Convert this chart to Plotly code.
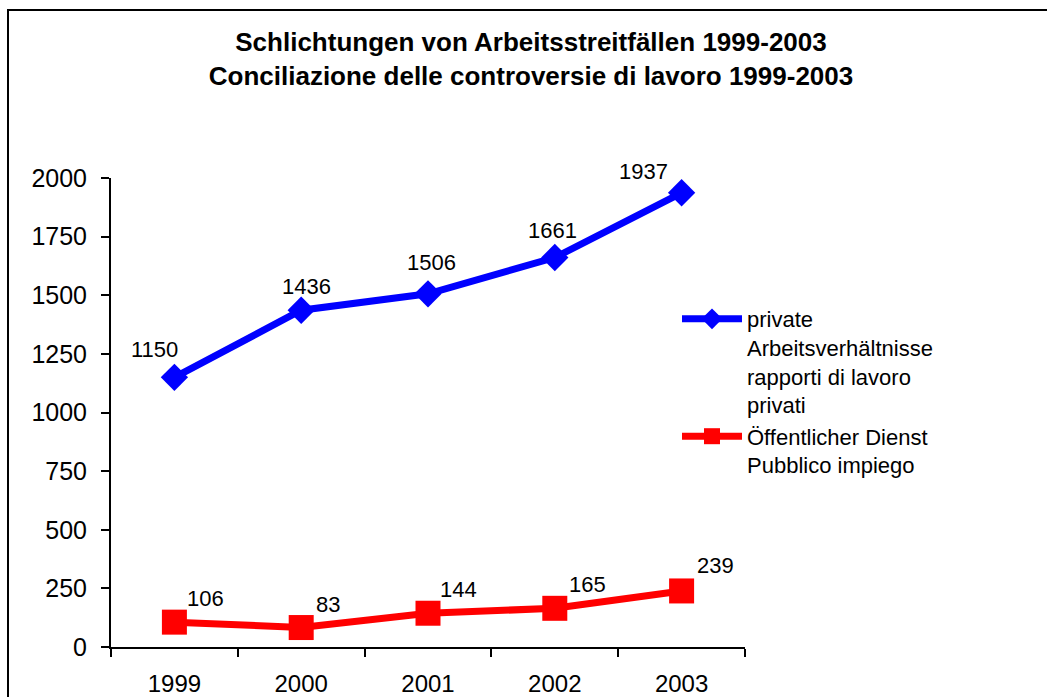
import plotly.graph_objects as go

years = ["1999", "2000", "2001", "2002", "2003"]
private_vals = [1150, 1436, 1506, 1661, 1937]
public_vals = [106, 83, 144, 165, 239]
private_name = "private<br>Arbeitsverhältnisse<br>rapporti di lavoro<br>privati"
public_name = "Öffentlicher Dienst<br>Pubblico impiego"
title_text = "<b>Schlichtungen von Arbeitsstreitfällen 1999-2003<br>Conciliazione delle controversie di lavoro 1999-2003</b>"

# label offsets (styling only): (xshift px, yshift px)
private_label_shift = [(-20, 13), (5, 9), (3, 17), (-2, 13), (-38, 7)]
public_label_shift = [(11, 9), (13, 9), (10, 9), (12, 9), (13, 11)]

FONT = "Liberation Sans, Arial, sans-serif"
BLUE = "#0000FF"
RED = "#FF0000"

fig = go.Figure()
fig.add_trace(go.Scatter(
    x=years, y=private_vals, mode="lines+markers", name=private_name,
    line=dict(color=BLUE, width=7),
    marker=dict(symbol="diamond", size=21, color=BLUE),
))
fig.add_trace(go.Scatter(
    x=years, y=public_vals, mode="lines+markers", name=public_name,
    line=dict(color=RED, width=7),
    marker=dict(symbol="square", size=25, color=RED),
))

annotations = []
for i, (v, (dx, dy)) in enumerate(zip(private_vals, private_label_shift)):
    annotations.append(dict(x=i, y=v, xref="x", yref="y", text=str(v), showarrow=False,
                            xanchor="center", yanchor="bottom", xshift=dx, yshift=dy,
                            font=dict(family=FONT, size=22, color="black")))
for i, (v, (dx, dy)) in enumerate(zip(public_vals, public_label_shift)):
    annotations.append(dict(x=i, y=v, xref="x", yref="y", text=str(v), showarrow=False,
                            xanchor="left", yanchor="bottom", xshift=dx, yshift=dy,
                            font=dict(family=FONT, size=22, color="black")))

L, R, T, B = 111, 302, 178, 50
W, H = 1047, 697
pw, ph = W - L - R, H - T - B

def px_to_paper_x(px):
    return (px - L) / pw

def px_to_paper_y(py):
    return (H - B - py) / ph

fig.update_layout(
    width=W, height=H,
    margin=dict(l=L, r=R, t=T, b=B, autoexpand=False),
    paper_bgcolor="white", plot_bgcolor="white",
    font=dict(family=FONT, size=22, color="black"),
    title=dict(text=title_text, x=531 / W, xanchor="center", y=1 - 51 / H, yanchor="middle",
               font=dict(family=FONT, size=26, color="black")),
    showlegend=True,
    legend=dict(x=px_to_paper_x(677), y=px_to_paper_y(298), xanchor="left", yanchor="top",
                valign="top", font=dict(family=FONT, size=22, color="black"),
                bgcolor="rgba(0,0,0,0)", tracegroupgap=14, itemwidth=60),
    annotations=annotations,
    shapes=[dict(type="rect", xref="paper", yref="paper",
                 x0=px_to_paper_x(8), x1=px_to_paper_x(1070),
                 y0=px_to_paper_y(720), y1=px_to_paper_y(10),
                 line=dict(color="black", width=2), fillcolor="rgba(0,0,0,0)", layer="below")],
)
fig.update_xaxes(type="category", range=[-0.5, 4.5], tickson="boundaries",
                 ticks="outside", ticklen=8, tickwidth=1.5, tickcolor="black",
                 showline=True, linecolor="black", linewidth=2, showgrid=False, zeroline=False,
                 automargin=False,
                 tickfont=dict(family=FONT, size=24, color="black"), ticklabelstandoff=14)
fig.update_yaxes(range=[0, 2000], dtick=250, tick0=0,
                 ticks="outside", ticklen=8, tickwidth=1.5, tickcolor="black",
                 showline=True, linecolor="black", linewidth=2, showgrid=False, zeroline=False,
                 automargin=False,
                 tickfont=dict(family=FONT, size=25, color="black"), ticklabelstandoff=9)

fig.write_html("out.html", config={"displayModeBar": False},
               post_script="document.body.style.margin='0';document.body.style.padding='0';")
